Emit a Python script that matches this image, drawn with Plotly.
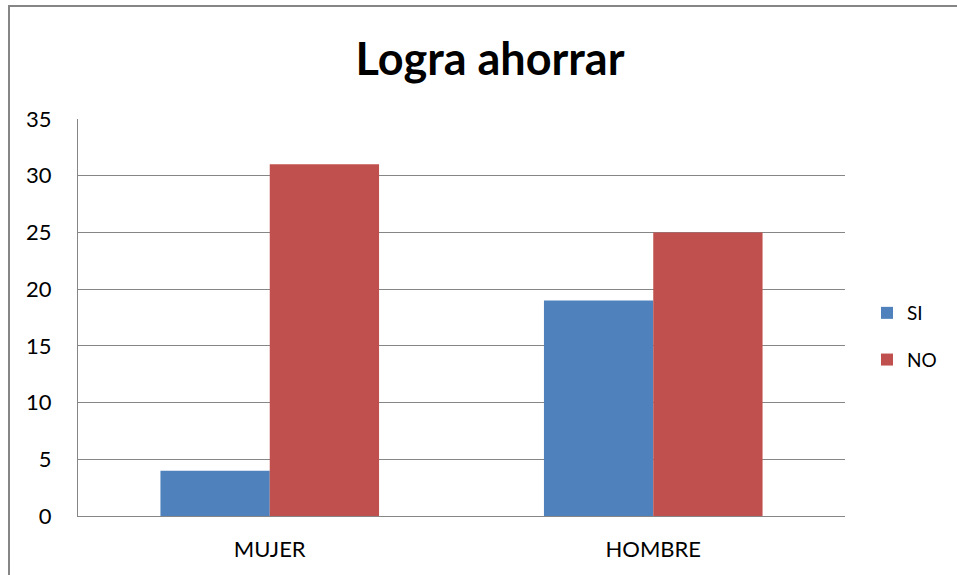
import plotly.graph_objects as go

categories = ["MUJER", "HOMBRE"]
si_values = [4, 19]
no_values = [31, 25]
y_ticks = [0, 5, 10, 15, 20, 25, 30, 35]

FONT = "Lato, Carlito, Calibri, sans-serif"

fig = go.Figure()
fig.add_trace(go.Bar(name="SI", x=categories, y=si_values, marker_color="#4F81BD",
                     marker_line_width=0, legendgroup="a"))
fig.add_trace(go.Bar(name="NO", x=categories, y=no_values, marker_color="#C0504D",
                     marker_line_width=0, legendgroup="b"))

L, R, T, B = 78, 957 - 845, 119, 575 - 516
W, H = 957, 575
pw, ph = W - L - R, H - T - B

fig.update_layout(
    width=W, height=H,
    margin=dict(l=L, r=R, t=T, b=B, pad=0, autoexpand=False),
    paper_bgcolor="white", plot_bgcolor="white",
    barmode="group", bargap=0.43, bargroupgap=0,
    font=dict(family=FONT, size=21, color="black"),
    title=dict(text="<b>Logra ahorrar</b>", x=490 / W, xref="container",
               xanchor="center", y=1 - 59 / H, yanchor="middle",
               font=dict(family=FONT, size=45, color="black")),
    showlegend=True,
    legend=dict(x=(867 - L) / pw, xanchor="left", y=1 - (294 - T) / ph, yanchor="top",
                font=dict(family=FONT, size=19), tracegroupgap=19,
                bgcolor="rgba(0,0,0,0)"),
    xaxis=dict(showline=True, linecolor="#868686", linewidth=1, ticks="",
               tickfont=dict(size=22), showgrid=False, ticklabelstandoff=14),
    yaxis=dict(range=[0, 35], tickvals=y_ticks, showline=True, linecolor="#868686",
               linewidth=1, gridcolor="#868686", gridwidth=1, ticks="",
               tickfont=dict(size=22), ticklabelstandoff=21, zeroline=False),
    shapes=[dict(type="rect", xref="paper", yref="paper",
                 x0=(9 - L) / pw, x1=(W + 20 - L) / pw,
                 y0=-(H + 20 - (H - B)) / ph, y1=1 + (T - 6) / ph,
                 line=dict(color="#868686", width=2), fillcolor="rgba(0,0,0,0)", layer="below")],
)

fig.write_html("out.html", config={"displayModeBar": False},
               post_script="document.body.style.margin='0';")
